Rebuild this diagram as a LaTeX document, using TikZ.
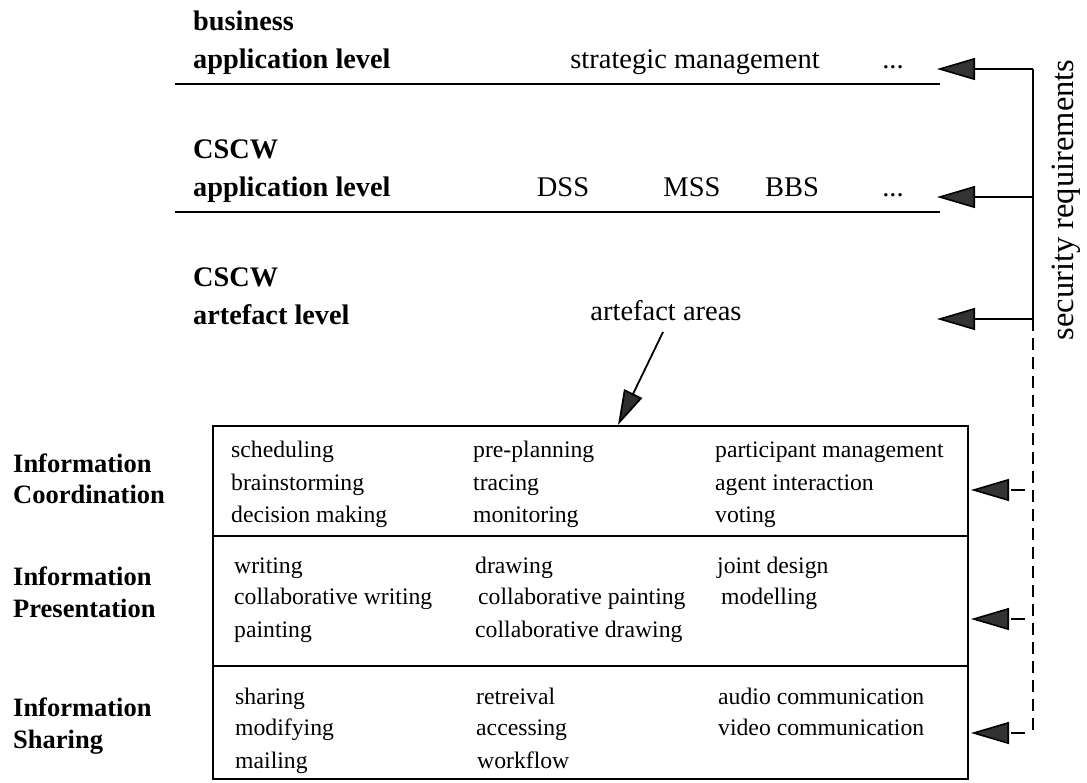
\documentclass[tikz,border=0pt]{standalone}
\usepackage{fontspec}
\setmainfont{Liberation Serif}
\usetikzlibrary{arrows.meta}

\begin{document}
\begin{tikzpicture}[x=1pt,y=-1pt,
  lvl/.style={font=\fontsize{28.3}{32}\selectfont\bfseries, anchor=base west, inner sep=0pt},
  item/.style={font=\fontsize{28.5}{32}\selectfont, anchor=base, inner sep=0pt},
  cat/.style={font=\fontsize{26.5}{30}\selectfont\bfseries, anchor=base west, inner sep=0pt},
  cell/.style={font=\fontsize{23.7}{28}\selectfont, anchor=base west, inner sep=0pt},
  rule/.style={line width=2pt},
  reqarrow/.style={-{Triangle[length=38pt,width=22pt,fill=black!80]}, line width=1.6pt},
  reqdash/.style={reqarrow, dash pattern=on 14pt off 8pt, dash phase=14pt},
  ptr/.style={-{Triangle[length=35pt,width=20pt,fill=black!82]}, line width=1.8pt},
]
\useasboundingbox (0,0) rectangle (1087,782);

% --- level labels ---------------------------------------------------
\node[lvl] (bus1) at (193,30) {business};
\node[lvl] (bus2) at (193,68) {application level};
\node[lvl] (app1) at (193,158) {CSCW};
\node[lvl] (app2) at (193,196) {application level};
\node[lvl] (art1) at (193,286) {CSCW};
\node[lvl] (art2) at (193,324) {artefact level};

% --- level contents -------------------------------------------------
\node[item] (strat) at (695,68) {strategic management};
\node[item] (dots1) at (893,68) {...};
\node[item] (dss)   at (563,196) {DSS};
\node[item] (mss)   at (692,196) {MSS};
\node[item] (bbs)   at (792,196) {BBS};
\node[item] (dots2) at (893,196) {...};
\node[item] (areaslabel) at (666,320) {artefact areas};

% --- level separators -----------------------------------------------
\coordinate (l1a) at (175,84);  \coordinate (l1b) at (940,84);
\coordinate (l2a) at (175,212); \coordinate (l2b) at (940,212);
\draw[rule] (l1a) -- (l1b);
\draw[rule] (l2a) -- (l2b);

% --- artefact area box ----------------------------------------------
\node[draw, line width=2pt, anchor=north west, minimum width=755pt,
      minimum height=353pt, inner sep=0pt] (areas) at (212,425) {};
\coordinate (d1) at (0,536);
\coordinate (d2) at (0,666);
\draw[rule] (areas.west |- d1) -- (areas.east |- d1);
\draw[rule] (areas.west |- d2) -- (areas.east |- d2);

% pointer from the caption into the box
\coordinate (ptrstart) at (663,332);
\draw[ptr] (ptrstart) -- (areas.north -| 618,0);

% --- category labels ------------------------------------------------
\node[cat] (c1a) at (13,472) {Information};
\node[cat] (c1b) at (13,503) {Coordination};
\node[cat] (c2a) at (13,585) {Information};
\node[cat] (c2b) at (13,617) {Presentation};
\node[cat] (c3a) at (13,716) {Information};
\node[cat] (c3b) at (13,748) {Sharing};

% --- box contents ---------------------------------------------------
\node[cell] (a11) at (231,457) {scheduling};
\node[cell] (a12) at (231,490) {brainstorming};
\node[cell] (a13) at (231,522) {decision making};
\node[cell] (b11) at (473,457) {pre-planning};
\node[cell] (b12) at (473,490) {tracing};
\node[cell] (b13) at (473,522) {monitoring};
\node[cell] (c11) at (715,457) {participant management};
\node[cell] (c12) at (715,490) {agent interaction};
\node[cell] (c13) at (715,522) {voting};

\node[cell] (a21) at (234,573) {writing};
\node[cell] (a22) at (234,604) {collaborative writing};
\node[cell] (a23) at (234,637) {painting};
\node[cell] (b21) at (475,573) {drawing};
\node[cell] (b22) at (478,604) {collaborative painting};
\node[cell] (b23) at (475,637) {collaborative drawing};
\node[cell] (c21) at (717,573) {joint design};
\node[cell] (c22) at (721,604) {modelling};

\node[cell] (a31) at (235,704) {sharing};
\node[cell] (a32) at (235,735) {modifying};
\node[cell] (a33) at (235,768) {mailing};
\node[cell] (b31) at (476,704) {retreival};
\node[cell] (b32) at (476,735) {accessing};
\node[cell] (b33) at (477,768) {workflow};
\node[cell] (c31) at (718,704) {audio communication};
\node[cell] (c32) at (718,735) {video communication};

% --- security requirements bus --------------------------------------
\node[font=\fontsize{32.5}{36}\selectfont, rotate=90, anchor=base, inner sep=0pt]
  (sec) at (1073,200) {security requirements};

\coordinate (s1) at (1033,69);
\coordinate (s2) at (1033,197);
\coordinate (s3) at (1033,319);
\coordinate (s4) at (1033,490);
\coordinate (s5) at (1033,619);
\coordinate (s6) at (1033,733);
\coordinate (t1) at (937,69);
\coordinate (t2) at (937,197);
\coordinate (t3) at (937,319);

\draw[line width=1.6pt] (s1) -- (s3);
\draw[line width=1.6pt, dash pattern=on 12pt off 7pt] (s3) -- (s6);

\draw[reqarrow] (s1) -- (t1);
\draw[reqarrow] (s2) -- (t2);
\draw[reqarrow] (s3) -- (t3);
\draw[reqdash] (s4) -- ([xshift=2pt]areas.east |- s4);
\draw[reqdash] (s5) -- ([xshift=2pt]areas.east |- s5);
\draw[reqdash] (s6) -- ([xshift=2pt]areas.east |- s6);
\end{tikzpicture}
\end{document}
